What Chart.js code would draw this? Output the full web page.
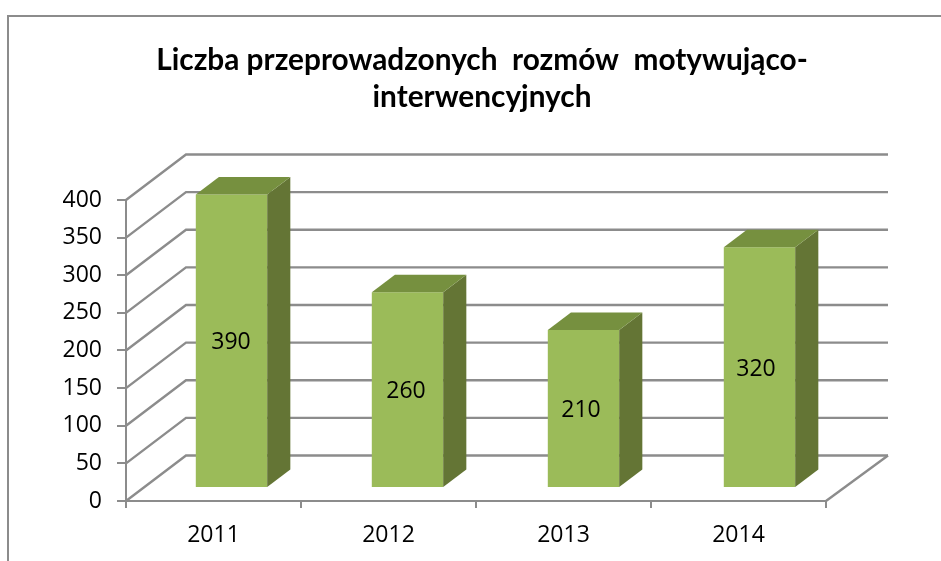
<!DOCTYPE html>
<html>
<head>
<meta charset="utf-8">
<style>html,body{margin:0;padding:0;background:#fff}canvas{display:block}</style>
<script src="https://cdn.jsdelivr.net/npm/chart.js@4"></script>
</head>
<body>
<canvas id="c" width="941" height="561"></canvas>
<script>
const categories = ['2011', '2012', '2013', '2014'];
const values = [390, 260, 210, 320];
const titleLines = ['Liczba przeprowadzonych  rozmów  motywująco-', 'interwencyjnych'];
const yMax = 400, yStep = 50;

const GRID = '#8c8c8c', FRONT = '#9bbb59', TOP = '#76903f', SIDE = '#647535';
const NUM_FONT = '"Open Sans"';
const WALL = {dx: 60, dy: -45.5, extra: 2};    // back wall offset
const BAR = {dx: 17.5, dy: -13, sx: 23, sy: -17.5, spread: 176 / 175}; // depth offset, bar depth

const frame3d = {
  id: 'frame3d',
  beforeDraw(chart) {
    const c = chart.ctx;
    c.save();
    c.strokeStyle = GRID; c.lineWidth = 2;
    c.beginPath(); c.moveTo(8, 561); c.lineTo(8, 16); c.lineTo(941, 16); c.stroke();
    c.restore();
  },
  afterLayout(chart) {
    chart.titleBlock.left += 138; // title is centred over the whole picture, not the plot
  },
  beforeDatasetsDraw(chart) {
    const c = chart.ctx, y = chart.scales.y, a = chart.chartArea;
    c.save();
    c.strokeStyle = GRID; c.lineWidth = 2.4;
    for (const t of y.ticks) {
      const p = y.getPixelForValue(t.value);
      c.beginPath();
      c.moveTo(a.left, p);
      c.lineTo(a.left + WALL.dx, p + WALL.dy);
      c.lineTo(a.right + WALL.dx + WALL.extra, p + WALL.dy);
      c.stroke();
    }
    const p0 = y.getPixelForValue(0);
    c.beginPath();
    c.moveTo(a.right, p0);
    c.lineTo(a.right + WALL.dx + WALL.extra, p0 + WALL.dy);
    c.stroke();
    c.restore();
  },
  beforeDatasetDraw(chart) {
    const c = chart.ctx, L = chart.chartArea.left;
    c.save();
    c.translate(L + BAR.dx, BAR.dy);
    c.scale(BAR.spread, 1);
    c.translate(-L, 0);
  },
  afterDatasetDraw(chart, args) {
    const c = chart.ctx, meta = args.meta;
    meta.data.forEach((b) => {
      const L = b.x - b.width / 2, R = b.x + b.width / 2, T = b.y, B = b.base;
      c.fillStyle = SIDE;
      c.beginPath();
      c.moveTo(R, T); c.lineTo(R + BAR.sx, T + BAR.sy);
      c.lineTo(R + BAR.sx, B + BAR.sy); c.lineTo(R, B);
      c.closePath(); c.fill();
      c.fillStyle = TOP;
      c.beginPath();
      c.moveTo(L, T); c.lineTo(L + BAR.sx, T + BAR.sy);
      c.lineTo(R + BAR.sx, T + BAR.sy); c.lineTo(R, T);
      c.closePath(); c.fill();
    });
    c.restore();
    c.save();
    c.fillStyle = '#000';
    c.font = '23px ' + NUM_FONT;
    c.textAlign = 'center'; c.textBaseline = 'middle';
    meta.data.forEach((b, i) => {
      c.fillText(String(values[i]), b.x + BAR.dx, (b.y + b.base) / 2 + BAR.dy + 2);
    });
    c.restore();
  }
};

new Chart(document.getElementById('c'), {
  type: 'bar',
  data: {
    labels: categories,
    datasets: [{data: values, backgroundColor: FRONT, borderWidth: 0,
      categoryPercentage: 71 / 175, barPercentage: 1}]
  },
  plugins: [frame3d],
  options: {
    responsive: false,
    animation: false,
    layout: {padding: {left: 0, right: 115, top: 0, bottom: 0}},
    plugins: {
      legend: {display: false},
      tooltip: {enabled: false},
      title: {
        display: true, text: titleLines, color: '#000',
        font: {family: 'Lato', size: 29.8, weight: 'bold', lineHeight: 1.27},
        padding: {top: 41, bottom: 83.3}
      }
    },
    scales: {
      x: {
        grid: {drawOnChartArea: false, color: GRID, lineWidth: 2, tickLength: 7, offset: true},
        border: {color: GRID, width: 2},
        ticks: {color: '#000', font: {family: 'Open Sans', size: 23}, padding: 14, maxRotation: 0},
        afterFit(s) { s.height = 60; }
      },
      y: {
        min: 0, max: yMax,
        grid: {drawOnChartArea: false, color: GRID, lineWidth: 2, tickLength: 9},
        border: {color: GRID, width: 2},
        ticks: {color: '#000', font: {family: 'Open Sans', size: 23}, stepSize: yStep, padding: 15},
        afterFit(s) { s.width = 126; }
      }
    }
  }
});
</script>
</body>
</html>
